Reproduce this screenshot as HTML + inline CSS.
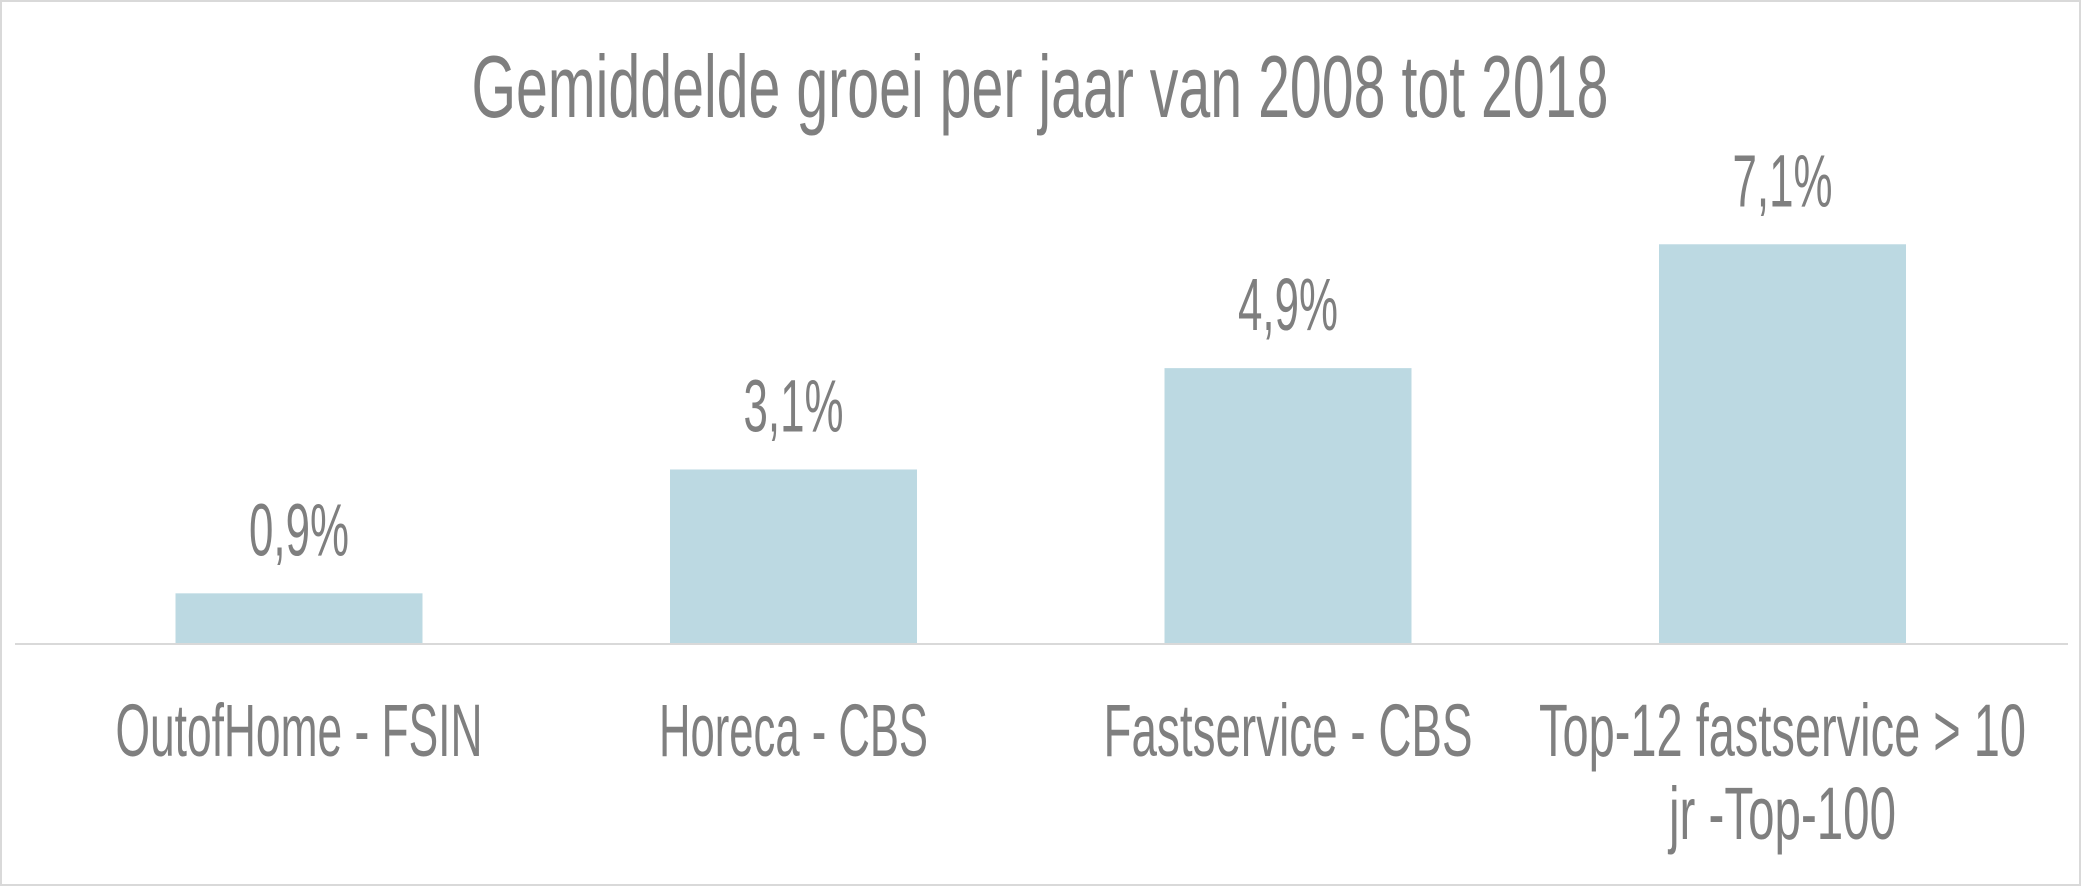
<!DOCTYPE html>
<html><head><meta charset="utf-8"><style>
html,body{margin:0;padding:0;background:#fff;}
svg{display:block;}
text{font-family:"Liberation Sans",sans-serif;fill:#7f7f7f;}
</style></head><body>
<svg id="chart" width="2081" height="886" viewBox="0 0 2081 886">
<rect x="1" y="1" width="2079" height="884" fill="#fff" stroke="#d9d9d9" stroke-width="2"/>
<text x="1040" y="117" text-anchor="middle" font-size="88" textLength="1137" lengthAdjust="spacingAndGlyphs">Gemiddelde groei per jaar van 2008 tot 2018</text>
<g id="bars"></g>
<line x1="15" y1="644" x2="2068" y2="644" stroke="#d9d9d9" stroke-width="2"/>
<g id="labels"></g>
</svg>
<script>
const categories = [["OutofHome - FSIN"], ["Horeca - CBS"], ["Fastservice - CBS"], ["Top-12 fastservice > 10", "jr -Top-100"]];
const values = [0.9, 3.1, 4.9, 7.1];
const valueLabels = ["0,9%", "3,1%", "4,9%", "7,1%"];
const catWidths = [[367], [269], [369], [487, 227]];

const NS = "http://www.w3.org/2000/svg";
const baseY = 644, pxPerUnit = 56.3;
const plotLeft = 15, slot = 494.5, barW = 247;
function xCenter(i){ return plotLeft + 284 + i * slot; }
function yScale(v){ return baseY - v * pxPerUnit; }
const gb = document.getElementById("bars");
const gl = document.getElementById("labels");
values.forEach((v, i) => {
  const r = document.createElementNS(NS, "rect");
  
  
  r.setAttribute("x", xCenter(i) - barW / 2);
  r.setAttribute("y", yScale(v));
  r.setAttribute("width", barW);
  r.setAttribute("height", baseY - yScale(v));
  r.setAttribute("fill", "#bcd9e2");
  gb.appendChild(r);
  const t = document.createElementNS(NS, "text");
  
  
  t.setAttribute("x", xCenter(i));
  t.setAttribute("y", yScale(v) - 38);
  t.setAttribute("text-anchor", "middle");
  t.setAttribute("font-size", "74");
  t.setAttribute("textLength", "100");
  t.setAttribute("lengthAdjust", "spacingAndGlyphs");
  t.textContent = valueLabels[i];
  gl.appendChild(t);
  categories[i].forEach((line, j) => {
    const c = document.createElementNS(NS, "text");
    
    
    c.setAttribute("x", xCenter(i));
    c.setAttribute("y", 756 + j * 83);
    c.setAttribute("text-anchor", "middle");
    c.setAttribute("font-size", "74");
    c.setAttribute("textLength", catWidths[i][j]);
    c.setAttribute("lengthAdjust", "spacingAndGlyphs");
    c.textContent = line;
    gl.appendChild(c);
  });
});
</script>
</body></html>
